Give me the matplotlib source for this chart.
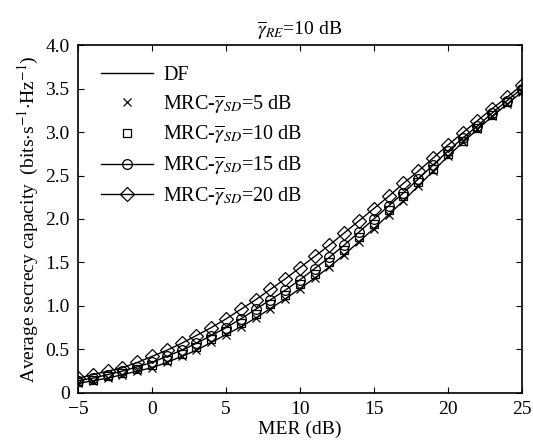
import matplotlib
matplotlib.use('Agg')
import matplotlib.pyplot as plt

plt.rcParams['font.family'] = ['Liberation Serif', 'DejaVu Serif']
plt.rcParams['mathtext.fontset'] = 'stix'

mer = list(range(-5, 26))

df = [0.11, 0.14, 0.17, 0.21, 0.25, 0.29, 0.35, 0.42, 0.49, 0.58, 0.67,
      0.76, 0.86, 0.97, 1.08, 1.20, 1.32, 1.45, 1.59, 1.74, 1.89,
      2.05, 2.21, 2.38, 2.55, 2.72, 2.88, 3.03, 3.18, 3.32, 3.46]
mrc5 = [0.11, 0.14, 0.17, 0.21, 0.25, 0.29, 0.35, 0.42, 0.49, 0.58, 0.67,
        0.76, 0.86, 0.97, 1.08, 1.20, 1.32, 1.45, 1.59, 1.74, 1.89,
        2.05, 2.21, 2.38, 2.55, 2.72, 2.88, 3.03, 3.18, 3.32, 3.46]
mrc10 = [0.12, 0.15, 0.19, 0.23, 0.27, 0.32, 0.38, 0.45, 0.53, 0.62, 0.71,
         0.80, 0.91, 1.02, 1.13, 1.25, 1.37, 1.50, 1.64, 1.79, 1.94,
         2.10, 2.26, 2.42, 2.58, 2.75, 2.90, 3.05, 3.20, 3.34, 3.48]
mrc15 = [0.14, 0.17, 0.21, 0.25, 0.30, 0.35, 0.42, 0.49, 0.57, 0.66, 0.75,
         0.85, 0.96, 1.07, 1.18, 1.30, 1.43, 1.56, 1.70, 1.85, 2.00,
         2.15, 2.30, 2.46, 2.62, 2.78, 2.93, 3.07, 3.22, 3.36, 3.50]
mrc20 = [0.17, 0.21, 0.25, 0.29, 0.35, 0.42, 0.49, 0.57, 0.66, 0.75, 0.85,
         0.96, 1.07, 1.19, 1.31, 1.44, 1.57, 1.70, 1.84, 1.98, 2.12,
         2.26, 2.41, 2.55, 2.70, 2.85, 2.99, 3.13, 3.27, 3.40, 3.54]

xticks = [-5, 0, 5, 10, 15, 20, 25]
xticklabels = ['\u22125', '0', '5', '10', '15', '20', '25']
yticks = [0, 0.5, 1.0, 1.5, 2.0, 2.5, 3.0, 3.5, 4.0]
yticklabels = ['0', '0.5', '1.0', '1.5', '2.0', '2.5', '3.0', '3.5', '4.0']

fig = plt.figure(figsize=(5.33, 4.46), dpi=100)
ax = fig.add_axes([0.1463, 0.119, 0.8327, 0.780])

lw = 1.0
ax.plot(mer, df, '-', color='black', lw=lw, label='DF')
ax.plot(mer, mrc5, 'x', color='black', ms=6, mew=0.9, linestyle='none',
        label=r'MRC-$\overline{\gamma}_{SD}$=5 dB')
ax.plot(mer, mrc10, 's', color='black', ms=6, mew=0.9, mfc='none', linestyle='none',
        label=r'MRC-$\overline{\gamma}_{SD}$=10 dB')
ax.plot(mer, mrc15, '-o', color='black', lw=lw, ms=7, mew=0.9, mfc='none',
        label=r'MRC-$\overline{\gamma}_{SD}$=15 dB')
ax.plot(mer, mrc20, '-D', color='black', lw=lw, ms=7, mew=0.9, mfc='none',
        label=r'MRC-$\overline{\gamma}_{SD}$=20 dB')

ax.set_xlim(-5, 25)
ax.set_ylim(0, 4.0)
ax.set_xticks(xticks)
ax.set_xticklabels(xticklabels)
ax.set_yticks(yticks)
ax.set_yticklabels(yticklabels)
ax.tick_params(direction='in', top=True, right=True, labelsize=14, length=4, width=0.8)
ax.tick_params(axis='y', pad=6)
ax.tick_params(axis='x', pad=6)
for s in ax.spines.values():
    s.set_linewidth(1.2)

ax.set_xlabel('MER (dB)', fontsize=14, labelpad=2)
ax.set_ylabel(r'Average secrecy capacity  (bits$\cdot$s$^{-1}$$\cdot$Hz$^{-1}$)',
              fontsize=14, labelpad=3)
ax.set_title(r'$\overline{\gamma}_{RE}$=10 dB', fontsize=14, pad=7)

ax.legend(loc='upper left', frameon=False, fontsize=14.5, handlelength=2.6,
          handletextpad=0.5, labelspacing=0.4, borderaxespad=0.3,
          bbox_to_anchor=(0.02, 0.98))

fig.savefig('out.png', dpi=100)
